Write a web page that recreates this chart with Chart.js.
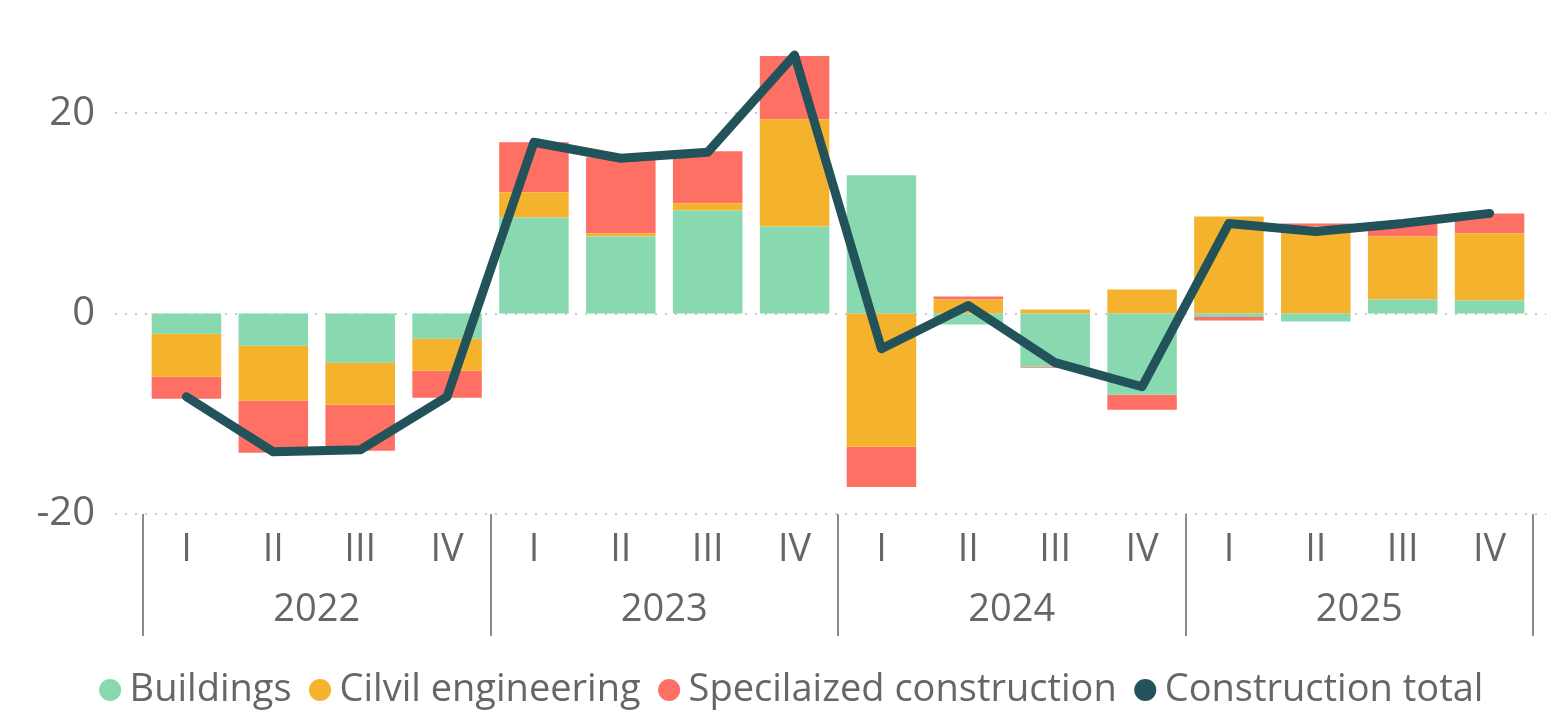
<!DOCTYPE html>
<html>
<head>
<meta charset="utf-8">
<script src="https://cdn.jsdelivr.net/npm/chart.js@4/dist/chart.umd.min.js"></script>
<style>
  html, body { margin: 0; padding: 0; background: #fff; }
  #wrap { width: 1546px; height: 711px; position: relative; }
</style>
</head>
<body>
<div id="wrap"><canvas id="constr"></canvas></div>
<script>
const quarters = ["I", "II", "III", "IV", "I", "II", "III", "IV", "I", "II", "III", "IV", "I", "II", "III", "IV"];
const years = ["2022", "2023", "2024", "2025"];
const yTicks = [-20, 0, 20];
const legendOrder = ["Buildings", "Cilvil engineering", "Specilaized construction", "Construction total"];

const buildings = [-2.0, -3.2, -4.9, -2.5, 9.6, 7.7, 10.3, 8.7, 13.8, -1.1, -5.3, -8.1, -0.35, -0.8, 1.4, 1.3];
const civil = [-4.3, -5.5, -4.2, -3.2, 2.5, 0.3, 0.7, 10.7, -13.3, 1.4, 0.4, 2.4, 9.7, 8.7, 6.3, 6.7];
const specialized = [-2.2, -5.2, -4.6, -2.7, 5.0, 7.6, 5.2, 6.3, -4.0, 0.3, -0.1, -1.5, -0.35, 0.3, 1.3, 2.0];
const total = [-8.3, -13.8, -13.6, -8.3, 17.1, 15.5, 16.1, 25.8, -3.5, 0.8, -4.9, -7.3, 9.0, 8.2, 9.0, 10.0];

const FONT = "'Open Sans', 'Noto Sans', sans-serif";
const TXT = '#666666';

// dotted horizontal grid, year separators, legend nudge
const decor = {
    id: 'decor',
    afterLayout(chart) {
        // legend in the original sits a bit right of centre
        chart.legend.left += 30;
        chart.legend.right += 30;
    },
    beforeDatasetsDraw(chart) {
        const ctx = chart.ctx;
        const y = chart.scales.y;
        ctx.save();
        ctx.strokeStyle = '#c8c8c8';
        ctx.lineWidth = 2;
        ctx.setLineDash([2, 8]);
        yTicks.forEach(v => {
            const py = Math.round(y.getPixelForValue(v));
            ctx.beginPath();
            ctx.moveTo(chart.chartArea.left - 28, py);
            ctx.lineTo(chart.width, py);
            ctx.stroke();
        });
        ctx.restore();
    },
    afterDraw(chart) {
        const ctx = chart.ctx;
        const x = chart.scales.x;
        ctx.save();
        ctx.strokeStyle = '#8a8a8a';
        ctx.lineWidth = 2;
        for (let i = 0; i <= quarters.length; i += 4) {
            const px = Math.round(x.getPixelForValue(i - 0.5));
            ctx.beginPath();
            ctx.moveTo(px, chart.chartArea.bottom);
            ctx.lineTo(px, chart.chartArea.bottom + 122);
            ctx.stroke();
        }
        ctx.restore();
    }
};

const chart = new Chart(document.getElementById('constr').getContext('2d'), {
    type: 'bar',
    data: {
        labels: quarters,
        datasets: [
            {
                label: "Construction total",
                type: 'line',
                data: total,
                borderColor: '#23535a',
                backgroundColor: '#23535a',
                borderWidth: 9,
                borderCapStyle: 'round',
                borderJoinStyle: 'round',
                pointRadius: 0,
                tension: 0,
                stack: 'total',
                order: 0
            },
            {
                label: "Buildings",
                data: buildings,
                backgroundColor: '#88d9b0',
                stack: 'parts',
                order: 1
            },
            {
                label: "Cilvil engineering",
                data: civil,
                backgroundColor: '#f5b22c',
                stack: 'parts',
                order: 1
            },
            {
                label: "Specilaized construction",
                data: specialized,
                backgroundColor: '#fe7063',
                stack: 'parts',
                order: 1
            }
        ]
    },
    options: {
        responsive: true,
        maintainAspectRatio: false,
        animation: false,
        layout: { padding: { top: 0, right: 13, bottom: -8, left: 0 } },
        datasets: { bar: { barPercentage: 0.8, categoryPercentage: 1 } },
        scales: {
            x: {
                stacked: true,
                grid: { display: false, drawTicks: false },
                border: { display: false },
                ticks: { color: TXT, font: { family: FONT, size: 38, lineHeight: 1 }, padding: 17, maxRotation: 0, autoSkip: false }
            },
            x2: {
                type: 'category',
                labels: years,
                position: 'bottom',
                offset: true,
                grid: { display: false, drawTicks: false },
                border: { display: false },
                ticks: { color: TXT, font: { family: FONT, size: 38, lineHeight: 1 }, padding: 5, maxRotation: 0 }
            },
            y: {
                stacked: true,
                min: -20,
                max: 28.5,
                afterBuildTicks: s => { s.ticks = yTicks.map(v => ({ value: v })); },
                afterFit: s => { s.width = 143; },
                grid: { display: false, drawTicks: true, tickLength: 44 },
                border: { display: false },
                ticks: { color: TXT, font: { family: FONT, size: 40 }, padding: 4 }
            }
        },
        plugins: {
            legend: {
                display: true,
                position: 'bottom',
                title: { display: true, text: ' ', font: { size: 9, lineHeight: 1 }, padding: 0 },
                labels: {
                    usePointStyle: true,
                    pointStyle: 'circle',
                    boxWidth: 1,
                    boxHeight: 15.6,
                    padding: 28,
                    color: TXT,
                    font: { family: FONT, size: 38 },
                    sort: (a, b) => legendOrder.indexOf(a.text) - legendOrder.indexOf(b.text),
                    generateLabels: c => Chart.defaults.plugins.legend.labels.generateLabels(c).map(l => {
                        l.lineWidth = 0;
                        return l;
                    })
                }
            },
            tooltip: { enabled: false }
        }
    },
    plugins: [decor]
});
</script>
</body>
</html>
